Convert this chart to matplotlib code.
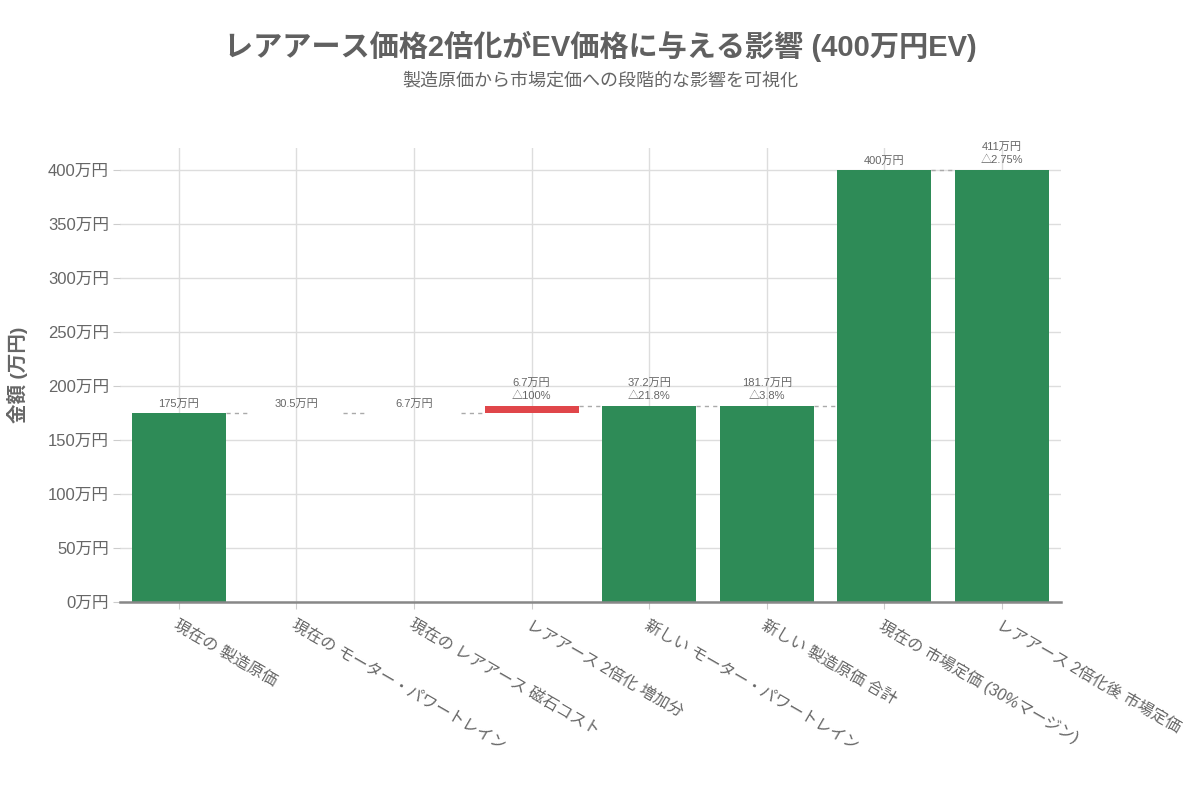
import matplotlib
matplotlib.use("Agg")
import matplotlib.pyplot as plt
import numpy as np

plt.rcParams['font.family'] = ['Liberation Sans', 'Noto Sans CJK JP', 'DejaVu Sans']

categories = ["現在の 製造原価", "現在の モーター・パワートレイン", "現在の レアアース 磁石コスト",
              "レアアース 2倍化 増加分", "新しい モーター・パワートレイン", "新しい 製造原価 合計",
              "現在の 市場定価 (30%マージン)", "レアアース 2倍化後 市場定価"]
measures = ["absolute", "relative", "relative", "relative", "absolute", "absolute", "absolute", "absolute"]
values = [175, 0, 0, 6.7, 181.7, 181.7, 400, 400]
labels = ["175万円", "30.5万円", "6.7万円", "6.7万円\n△100%", "37.2万円\n△21.8%",
          "181.7万円\n△3.8%", "400万円", "411万円\n△2.75%"]
yticks = [0, 50, 100, 150, 200, 250, 300, 350, 400]
ytick_labels = [f"{v}万円" for v in yticks]

GREEN = "#2E8B57"
RED = "#E0464A"
TXT = "#666666"

fig = plt.figure(figsize=(12, 8), dpi=100)
ax = fig.add_axes([0.1, 0.2475, 0.784, 0.5675])

bottoms, tops, colors = [], [], []
running = 0
for m, v in zip(measures, values):
    if m == "absolute":
        bottoms.append(0); tops.append(v); running = v; colors.append(GREEN)
    else:
        bottoms.append(running); tops.append(running + v); running += v; colors.append(RED)

x = np.arange(len(categories))
width = 0.8
heights = [t - b for t, b in zip(tops, bottoms)]
ax.bar(x, heights, bottom=bottoms, width=width, color=colors, zorder=3, linewidth=0)

# connectors
for i in range(len(x) - 1):
    ax.plot([x[i] + width / 2, x[i + 1] - width / 2], [tops[i], tops[i]],
            color="#aaaaaa", linestyle=(0, (3, 3)), linewidth=1, zorder=2)

# labels
for xi, t, lab in zip(x, tops, labels):
    ax.annotate(lab, (xi, t), xytext=(0, 3), textcoords="offset points",
                ha="center", va="bottom", fontsize=8, color=TXT, linespacing=1.45)

ax.set_xlim(-0.5, len(categories) - 0.5)
ax.set_ylim(0, 420)
ax.set_yticks(yticks)
ax.set_yticklabels(ytick_labels, fontsize=12, color=TXT)
ax.set_xticks(x)
ax.set_xticklabels(categories, fontsize=11.5, color=TXT, rotation=-30,
                   ha="left", va="top", rotation_mode="anchor")
ax.tick_params(axis="y", length=5, color="#cccccc", pad=3)
ax.tick_params(axis="x", length=5, color="#cccccc", pad=6)

ax.grid(True, color="#dddddd", linewidth=1, zorder=0)
ax.set_axisbelow(True)
for s in ["top", "right", "left"]:
    ax.spines[s].set_visible(False)
ax.spines["bottom"].set_color("#888888")
ax.spines["bottom"].set_linewidth(1.8)
ax.spines["bottom"].set_zorder(4)

ax.set_ylabel("金額 (万円)", fontsize=14, color=TXT, fontweight="bold", labelpad=14)

fig.text(0.5, 0.942, "レアアース価格2倍化がEV価格に与える影響 (400万円EV)", ha="center", va="center",
         fontsize=21, fontweight="bold", color="#606060")
fig.text(0.5, 0.899, "製造原価から市場定価への段階的な影響を可視化", ha="center", va="center",
         fontsize=13, color=TXT)

fig.savefig("out.png", dpi=100, facecolor="white")
